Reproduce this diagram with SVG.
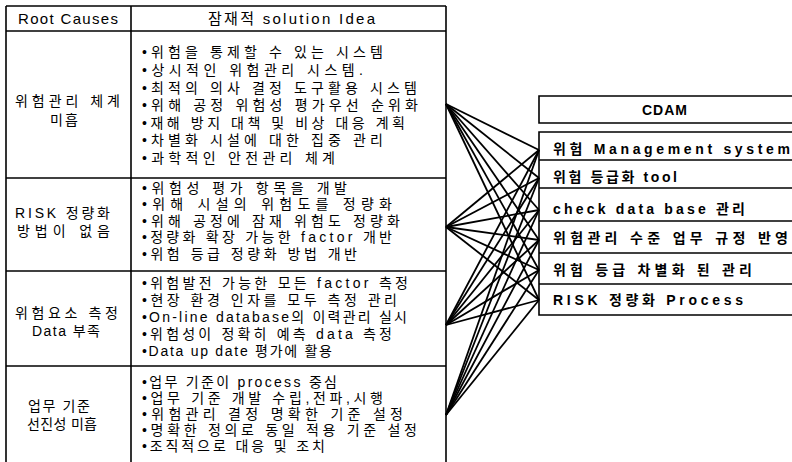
<svg xmlns="http://www.w3.org/2000/svg" width="792" height="462" viewBox="0 0 792 462">
<style>
  text { font-family: "Liberation Sans", "Noto Sans CJK KR", sans-serif; fill: #000; }
  .hdr { font-size: 15px; }
  .lbl { font-size: 14px; }
  .idea { font-size: 14px; }
  .cdam { font-size: 14px; font-weight: bold; }
  .frame { fill: none; stroke: #000; stroke-width: 1.6; }
  .conn line { stroke: #000; stroke-width: 1.8; }
</style>
<rect width="792" height="462" fill="#fff"/>

<g id="table-frame" class="frame">
  <line x1="6" y1="6" x2="446" y2="6"/>
  <line x1="6" y1="6" x2="6" y2="462"/>
  <line x1="131" y1="6" x2="131" y2="462"/>
  <line x1="446" y1="6" x2="446" y2="462"/>
  <line x1="6" y1="31" x2="446" y2="31"/>
  <line x1="6" y1="178" x2="446" y2="178"/>
  <line x1="6" y1="271" x2="446" y2="271"/>
  <line x1="6" y1="366" x2="446" y2="366"/>
</g>

<g id="header">
  <text class="hdr" x="18" y="24" textLength="100" lengthAdjust="spacing">Root Causes</text>
  <text class="hdr" x="208" y="24" textLength="167" lengthAdjust="spacing">잠재적 solution Idea</text>
</g>

<g id="row1">
  <text class="lbl" x="15" y="106" textLength="105" lengthAdjust="spacing">위험관리 체계</text>
  <text class="lbl" x="50" y="125" textLength="28" lengthAdjust="spacing">미흡</text>
  <text class="idea" x="142" y="57" textLength="241" lengthAdjust="spacing">•위험을 통제할 수 있는 시스템</text>
  <text class="idea" x="142" y="75" textLength="221" lengthAdjust="spacing">•상시적인 위험관리 시스템.</text>
  <text class="idea" x="142" y="93" textLength="275" lengthAdjust="spacing">•최적의 의사 결정 도구활용 시스템</text>
  <text class="idea" x="142" y="110" textLength="276" lengthAdjust="spacing">•위해 공정 위험성 평가우선 순위화</text>
  <text class="idea" x="142" y="128" textLength="263" lengthAdjust="spacing">•재해 방지 대책 및 비상 대응 계획</text>
  <text class="idea" x="142" y="145" textLength="241" lengthAdjust="spacing">•차별화 시설에 대한 집중 관리</text>
  <text class="idea" x="142" y="163" textLength="193" lengthAdjust="spacing">•과학적인 안전관리 체계</text>
</g>

<g id="row2">
  <text class="lbl" x="15" y="218" textLength="95" lengthAdjust="spacing">RISK 정량화</text>
  <text class="lbl" x="17" y="236" textLength="93" lengthAdjust="spacing">방법이 없음</text>
  <text class="idea" x="142" y="193" textLength="205" lengthAdjust="spacing">•위험성 평가 항목을 개발</text>
  <text class="idea" x="142" y="209" textLength="250" lengthAdjust="spacing">•위해 시설의 위험도를 정량화</text>
  <text class="idea" x="142" y="226" textLength="258" lengthAdjust="spacing">•위해 공정에 잠재 위험도 정량화</text>
  <text class="idea" x="142" y="242" textLength="250" lengthAdjust="spacing">•정량화 확장 가능한 factor 개반</text>
  <text class="idea" x="142" y="259" textLength="215" lengthAdjust="spacing">•위험 등급 정량화 방법 개반</text>
</g>

<g id="row3">
  <text class="lbl" x="15" y="318" textLength="103" lengthAdjust="spacing">위험요소 측정</text>
  <text class="lbl" x="32" y="336" textLength="68" lengthAdjust="spacing">Data 부족</text>
  <text class="idea" x="142" y="288" textLength="266" lengthAdjust="spacing">•위험발전 가능한 모든 factor 측정</text>
  <text class="idea" x="142" y="305" textLength="255" lengthAdjust="spacing">•현장 환경 인자를 모두 측정 관리</text>
  <text class="idea" x="142" y="322" textLength="265" lengthAdjust="spacing">•On-line database의 이력관리 실시</text>
  <text class="idea" x="142" y="339" textLength="250" lengthAdjust="spacing">•위험성이 정확히 예측 data 측정</text>
  <text class="idea" x="142" y="356" textLength="190" lengthAdjust="spacing">•Data  up date 평가에 활용</text>
</g>

<g id="row4">
  <text class="lbl" x="28" y="411" textLength="62" lengthAdjust="spacing">업무 기준</text>
  <text class="lbl" x="27" y="429" textLength="70" lengthAdjust="spacing">선진성 미흡</text>
  <text class="idea" x="142" y="387" textLength="195" lengthAdjust="spacing">•업무 기준이 process 중심</text>
  <text class="idea" x="142" y="403" textLength="241" lengthAdjust="spacing">•업무 기준 개발 수립,전파,시행</text>
  <text class="idea" x="142" y="419" textLength="261" lengthAdjust="spacing">•위험관리 결정 명확한 기준 설정</text>
  <text class="idea" x="142" y="435" textLength="275" lengthAdjust="spacing">•명확한 정의로 동일 적용 기준 설정</text>
  <text class="idea" x="142" y="451" textLength="183" lengthAdjust="spacing">•조직적으로 대응 및 조치</text>
</g>

<g id="cdam-title">
  <path class="frame" d="M800,96 H539 V123 H800"/>
  <text class="cdam" x="642" y="115" textLength="45" lengthAdjust="spacing">CDAM</text>
</g>

<g id="cdam-items" class="frame">
  <path d="M800,132 H539 V315 H800"/>
  <line x1="539" y1="160" x2="800" y2="160"/>
  <line x1="539" y1="188" x2="800" y2="188"/>
  <line x1="539" y1="221" x2="800" y2="221"/>
  <line x1="539" y1="253" x2="800" y2="253"/>
  <line x1="539" y1="284" x2="800" y2="284"/>
</g>
<g id="item1"><text class="cdam" x="553" y="154" textLength="237" lengthAdjust="spacing">위험 Management system</text></g>
<g id="item2"><text class="cdam" x="553" y="182" textLength="124" lengthAdjust="spacing">위험 등급화 tool</text></g>
<g id="item3"><text class="cdam" x="553" y="214" textLength="192" lengthAdjust="spacing">check data base 관리</text></g>
<g id="item4"><text class="cdam" x="553" y="243" textLength="235" lengthAdjust="spacing">위험관리 수준 업무 규정 반영</text></g>
<g id="item5"><text class="cdam" x="553" y="275" textLength="199" lengthAdjust="spacing">위험 등급 차별화 된 관리</text></g>
<g id="item6"><text class="cdam" x="553" y="305" textLength="190" lengthAdjust="spacing">RISK 정량화 Process</text></g>

<g id="connectors" class="conn">
  <line x1="446" y1="104" x2="539" y2="150"/>
  <line x1="446" y1="104" x2="539" y2="178"/>
  <line x1="446" y1="104" x2="539" y2="210"/>
  <line x1="446" y1="104" x2="539" y2="240"/>
  <line x1="446" y1="104" x2="539" y2="270"/>
  <line x1="446" y1="104" x2="539" y2="300"/>
  <line x1="446" y1="227" x2="539" y2="150"/>
  <line x1="446" y1="227" x2="539" y2="178"/>
  <line x1="446" y1="227" x2="539" y2="210"/>
  <line x1="446" y1="227" x2="539" y2="240"/>
  <line x1="446" y1="227" x2="539" y2="270"/>
  <line x1="446" y1="227" x2="539" y2="300"/>
  <line x1="446" y1="325" x2="539" y2="150"/>
  <line x1="446" y1="325" x2="539" y2="178"/>
  <line x1="446" y1="325" x2="539" y2="210"/>
  <line x1="446" y1="325" x2="539" y2="240"/>
  <line x1="446" y1="325" x2="539" y2="270"/>
  <line x1="446" y1="325" x2="539" y2="300"/>
  <line x1="446" y1="415" x2="539" y2="150"/>
  <line x1="446" y1="415" x2="539" y2="178"/>
  <line x1="446" y1="415" x2="539" y2="210"/>
  <line x1="446" y1="415" x2="539" y2="240"/>
  <line x1="446" y1="415" x2="539" y2="270"/>
  <line x1="446" y1="415" x2="539" y2="300"/>
</g>
</svg>
